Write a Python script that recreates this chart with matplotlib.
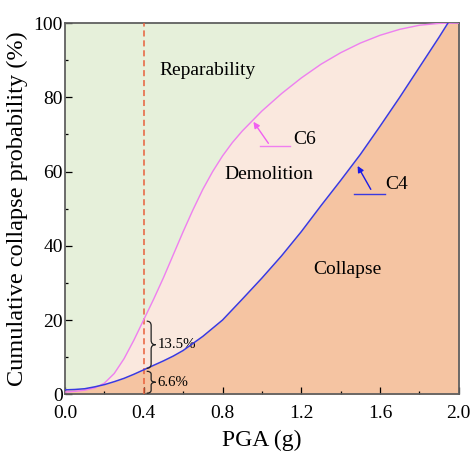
import numpy as np
import matplotlib
matplotlib.use("Agg")
import matplotlib.pyplot as plt
from matplotlib.path import Path
from matplotlib.patches import PathPatch

plt.rcParams['font.family'] = ['Liberation Serif', 'DejaVu Serif']

# fragility curves, PGA (g) vs cumulative collapse probability (%)
c6_pga = [0.0, 0.05, 0.1, 0.15, 0.2, 0.25, 0.3, 0.35, 0.4, 0.45, 0.5, 0.55, 0.6, 0.65,
          0.7, 0.75, 0.8, 0.85, 0.9, 1.0, 1.1, 1.2, 1.3, 1.4, 1.5, 1.6, 1.7, 1.8, 1.9, 2.0]
c6_prob = [0.6, 0.8, 1.1, 1.7, 3.0, 5.6, 9.6, 14.6, 20.1, 25.6, 31.4, 37.6, 43.8, 49.7,
           55.2, 60.0, 64.2, 67.8, 70.9, 76.3, 81.0, 85.2, 88.9, 92.0, 94.6, 96.7, 98.3,
           99.4, 99.9, 100.0]

c4_pga = [0.0, 0.05, 0.1, 0.15, 0.2, 0.25, 0.3, 0.35, 0.4, 0.45, 0.5, 0.55, 0.6, 0.7,
          0.8, 0.9, 1.0, 1.1, 1.2, 1.3, 1.4, 1.5, 1.6, 1.7, 1.8, 1.9, 1.945]
c4_prob = [1.2, 1.3, 1.5, 2.0, 2.6, 3.4, 4.3, 5.4, 6.6, 7.8, 9.0, 10.3, 11.8, 15.6,
           20.0, 25.6, 31.3, 37.3, 43.8, 50.8, 57.6, 64.6, 72.2, 80.0, 88.1, 96.2, 100.0]

pga_ref = 0.4
gap_c6 = 13.5
gap_c4 = 6.6

green = '#e6f0da'
pink = '#fae8de'
peach = '#f5c4a2'


def brace(ax, x, y0, y1, w, q=1.2):
    # right-facing curly brace between y0 and y1
    ym = (y0 + y1) / 2
    xm = x + w / 2
    verts = [(x, y1), (xm, y1), (xm, y1 - q),
             (xm, ym + q), (xm, ym), (x + w, ym),
             (xm, ym), (xm, ym - q),
             (xm, y0 + q), (xm, y0), (x, y0)]
    codes = [Path.MOVETO, Path.CURVE3, Path.CURVE3,
             Path.LINETO, Path.CURVE3, Path.CURVE3,
             Path.CURVE3, Path.CURVE3,
             Path.LINETO, Path.CURVE3, Path.CURVE3]
    ax.add_patch(PathPatch(Path(verts, codes), fill=False, lw=0.9, color='#222222', zorder=5))
    return ym


fig = plt.figure(figsize=(4.73, 4.54), dpi=100)
ax = fig.add_axes([0.1374, 0.1315, 0.8326, 0.8178])
ax.set_facecolor(green)

ax.fill_between(c6_pga, 0, c6_prob, color=pink, lw=0)
ax.fill_between(np.append(c4_pga, 2.0), 0, np.append(c4_prob, 100), color=peach, lw=0)

ax.plot(c6_pga, c6_prob, color='#f07ef0', lw=1.0, zorder=4)
ax.plot(c4_pga, c4_prob, color='#3a3ae0', lw=1.1, zorder=4)

ax.axvline(pga_ref, color='#e8603c', lw=1.1, ls=(0, (4, 2.5)), zorder=3)

# gaps at PGA = 0.4 g
c4_at = gap_c4
c6_at = gap_c4 + gap_c6
ym = brace(ax, 0.415, c4_at + 0.4, c6_at - 0.4, 0.045)
ax.text(0.47, ym, '%.1f%%' % gap_c6, fontsize=10.7, va='center', ha='left')
ym = brace(ax, 0.415, 0.3, c4_at - 0.4, 0.045, q=0.8)
ax.text(0.47, ym, '%.1f%%' % gap_c4, fontsize=10.7, va='center', ha='left')

# region names
ax.text(0.724, 87.3, 'Reparability', fontsize=14, ha='center', va='center')
ax.text(1.037, 59.1, 'Demolition', fontsize=14, ha='center', va='center')
ax.text(1.436, 33.7, 'Collapse', fontsize=14, ha='center', va='center')

# curve labels
ax.plot([0.99, 1.144], [66.9, 66.9], color='#f07ef0', lw=1.0)
ax.annotate('', xy=(0.957, 73.4), xytext=(1.033, 67.6),
            arrowprops=dict(arrowstyle='-|>', color='#f060f0', lw=1.0,
                            mutation_scale=9, shrinkA=0, shrinkB=0))
ax.text(1.159, 68.5, 'C6', fontsize=14, va='center', ha='left')

ax.plot([1.469, 1.626], [53.9, 53.9], color='#3a3ae0', lw=1.0)
ax.annotate('', xy=(1.486, 61.5), xytext=(1.553, 55.2),
            arrowprops=dict(arrowstyle='-|>', color='#1a1ae8', lw=1.0,
                            mutation_scale=9, shrinkA=0, shrinkB=0))
ax.text(1.626, 56.4, 'C4', fontsize=14, va='center', ha='left')

ax.set_xlim(0, 2.0)
ax.set_ylim(0, 100)
ax.set_xticks(np.arange(0, 2.01, 0.4))
ax.set_xticks(np.arange(0.2, 2.0, 0.4), minor=True)
ax.set_yticks(np.arange(0, 101, 20))
ax.set_yticks(np.arange(10, 100, 20), minor=True)
ax.set_xticklabels(['%.1f' % v for v in np.arange(0, 2.01, 0.4)])
ax.tick_params(which='both', direction='in', top=False, right=False, labelsize=14)
ax.tick_params(which='major', length=5, width=0.9)
ax.tick_params(which='minor', length=2.5, width=0.9)
ax.tick_params(axis='y', pad=1.5)
ax.tick_params(axis='x', pad=8)

for s in ax.spines.values():
    s.set_color('#606060')
    s.set_linewidth(1.3)

ax.set_xlabel('PGA (g)', fontsize=17, labelpad=5)
ax.set_ylabel('Cumulative collapse probability (%)', fontsize=17.5, labelpad=4)

fig.savefig('out.png', dpi=100)
